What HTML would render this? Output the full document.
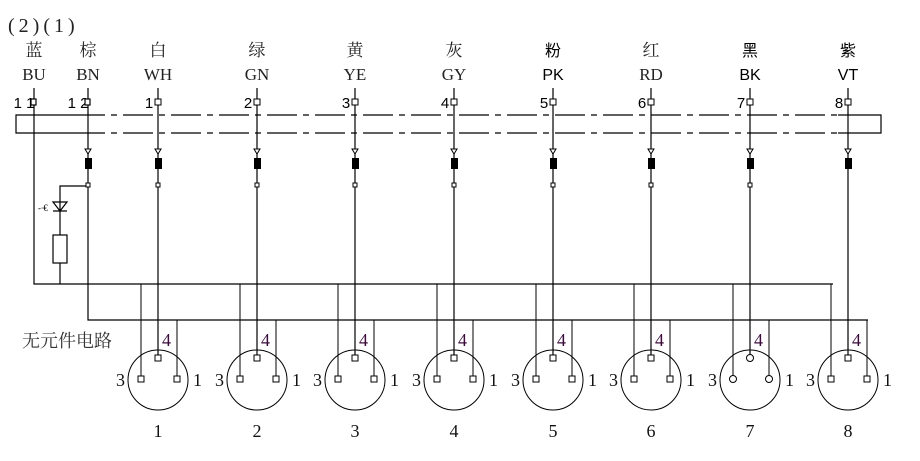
<!DOCTYPE html>
<html><head><meta charset="utf-8"><style>
html,body{margin:0;padding:0;background:#fff;}
svg{display:block;}
.s{font-family:"Liberation Serif","Noto Serif CJK SC",serif;font-size:17px;fill:#222;}
.a{font-family:"Liberation Sans","Noto Sans CJK SC",sans-serif;font-size:16px;fill:#000;}
.n{font-family:"Liberation Sans",sans-serif;font-size:15px;fill:#000;}
.p{font-family:"Liberation Serif",serif;font-size:18px;fill:#111;}
.f{font-family:"Liberation Serif",serif;font-size:18px;fill:#3a0a3a;}
</style></head><body>
<svg width="920" height="461" viewBox="0 0 920 461" xmlns="http://www.w3.org/2000/svg" stroke="#000" stroke-width="1.2" fill="none">
<text x="8" y="32" class="s" stroke="none" style="font-size:20px;letter-spacing:4px">(2)(1)</text>
<g stroke="none" text-anchor="middle">
<text x="34" y="56" class="s">蓝</text><text x="34" y="80" class="s">BU</text>
<text x="88" y="56" class="s">棕</text><text x="88" y="80" class="s">BN</text>
<text x="158" y="56" class="s">白</text><text x="158" y="80" class="s">WH</text>
<text x="257" y="56" class="s">绿</text><text x="257" y="80" class="s">GN</text>
<text x="355" y="56" class="s">黄</text><text x="355" y="80" class="s">YE</text>
<text x="454" y="56" class="s">灰</text><text x="454" y="80" class="s">GY</text>
<text x="553" y="56" class="a">粉</text><text x="553" y="80" class="a">PK</text>
<text x="651" y="56" class="s">红</text><text x="651" y="80" class="s">RD</text>
<text x="750" y="56" class="a">黑</text><text x="750" y="80" class="a">BK</text>
<text x="848" y="56" class="a">紫</text><text x="848" y="80" class="a">VT</text>
<text x="24" y="108" class="n">1 1</text><text x="78" y="108" class="n">1 2</text>
<text x="149" y="108" class="n">1</text><text x="248" y="108" class="n">2</text>
<text x="346" y="108" class="n">3</text><text x="445" y="108" class="n">4</text>
<text x="544" y="108" class="n">5</text><text x="642" y="108" class="n">6</text>
<text x="741" y="108" class="n">7</text><text x="839" y="108" class="n">8</text>
</g>
<path d="M75 115 H16 V133 H75"/>
<path d="M838 115 H881 V133 H838"/>
<path d="M75 115 H838 M75 133 H838" stroke-dasharray="30 6 6 6"/>
<path d="M34 88 V284 H833"/>
<path d="M88 88 V320 H868"/>
<rect x="31" y="99" width="5" height="6" fill="#fff"/>
<rect x="85" y="99" width="5" height="6" fill="#fff"/>
<path d="M88 186 H60 V284"/>
<rect x="53" y="235" width="14" height="28" fill="#fff"/>
<path d="M53 202 H67 L60 211 Z M53 211 H67"/>
<text x="38" y="211" stroke="none" style="font-size:9px" fill="#000">-∙€</text>
<path d="M158 88 V357 M257 88 V357 M355 88 V357 M454 88 V357 M553 88 V357 M651 88 V357 M750 88 V357 M848 88 V357"/>
<g fill="#fff" stroke-width="1">
<rect x="155" y="99" width="6" height="6"/><rect x="254" y="99" width="6" height="6"/><rect x="352" y="99" width="6" height="6"/><rect x="451" y="99" width="6" height="6"/><rect x="550" y="99" width="6" height="6"/><rect x="648" y="99" width="6" height="6"/><rect x="747" y="99" width="6" height="6"/><rect x="845" y="99" width="6" height="6"/>
</g>
<g fill="#000" stroke="none">
<rect x="85" y="158" width="7" height="11"/><rect x="155" y="158" width="7" height="11"/><rect x="254" y="158" width="7" height="11"/><rect x="352" y="158" width="7" height="11"/><rect x="451" y="158" width="7" height="11"/><rect x="550" y="158" width="7" height="11"/><rect x="648" y="158" width="7" height="11"/><rect x="747" y="158" width="7" height="11"/><rect x="845" y="158" width="7" height="11"/>
</g>
<g fill="#fff" stroke-width="1">
<path d="M85 149 H91 L88 154 Z M155 149 H161 L158 154 Z M254 149 H260 L257 154 Z M352 149 H358 L355 154 Z M451 149 H457 L454 154 Z M550 149 H556 L553 154 Z M648 149 H654 L651 154 Z M747 149 H753 L750 154 Z M845 149 H851 L848 154 Z"/>
<rect x="86" y="183" width="4" height="4"/><rect x="156" y="183" width="4" height="4"/><rect x="255" y="183" width="4" height="4"/><rect x="353" y="183" width="4" height="4"/><rect x="452" y="183" width="4" height="4"/><rect x="551" y="183" width="4" height="4"/><rect x="649" y="183" width="4" height="4"/><rect x="748" y="183" width="4" height="4"/>
</g>
<text x="22" y="347" class="s" stroke="none" style="font-size:18px;fill:#333">无元件电路</text>
<g stroke-width="1">
<path d="M141 284 V379 M177 320 V379"/>
<path d="M240 284 V379 M276 320 V379"/>
<path d="M338 284 V379 M374 320 V379"/>
<path d="M437 284 V379 M473 320 V379"/>
<path d="M536 284 V379 M572 320 V379"/>
<path d="M634 284 V379 M670 320 V379"/>
<path d="M733 284 V379 M769 320 V379"/>
<path d="M831 284 V379 M867 320 V379"/>
<g fill="none">
<circle cx="158" cy="380" r="30"/><circle cx="257" cy="380" r="30"/><circle cx="355" cy="380" r="30"/><circle cx="454" cy="380" r="30"/><circle cx="553" cy="380" r="30"/><circle cx="651" cy="380" r="30"/><circle cx="750" cy="380" r="30"/><circle cx="848" cy="380" r="30"/>
</g>
<g fill="#fff">
<rect x="155" y="355" width="6" height="6"/><rect x="138" y="376" width="6" height="6"/><rect x="174" y="376" width="6" height="6"/>
<rect x="254" y="355" width="6" height="6"/><rect x="237" y="376" width="6" height="6"/><rect x="273" y="376" width="6" height="6"/>
<rect x="352" y="355" width="6" height="6"/><rect x="335" y="376" width="6" height="6"/><rect x="371" y="376" width="6" height="6"/>
<rect x="451" y="355" width="6" height="6"/><rect x="434" y="376" width="6" height="6"/><rect x="470" y="376" width="6" height="6"/>
<rect x="550" y="355" width="6" height="6"/><rect x="533" y="376" width="6" height="6"/><rect x="569" y="376" width="6" height="6"/>
<rect x="648" y="355" width="6" height="6"/><rect x="631" y="376" width="6" height="6"/><rect x="667" y="376" width="6" height="6"/>
<circle cx="750" cy="358" r="3.5"/><circle cx="733" cy="379" r="3.5"/><circle cx="769" cy="379" r="3.5"/>
<rect x="845" y="355" width="6" height="6"/><rect x="828" y="376" width="6" height="6"/><rect x="864" y="376" width="6" height="6"/>
</g>
</g>
<g stroke="none">
<text x="162" y="346" class="f">4</text><text x="261" y="346" class="f">4</text><text x="359" y="346" class="f">4</text><text x="458" y="346" class="f">4</text><text x="557" y="346" class="f">4</text><text x="655" y="346" class="f">4</text><text x="754" y="346" class="f">4</text><text x="852" y="346" class="f">4</text>
<text x="116" y="386" class="p">3</text><text x="193" y="386" class="p">1</text>
<text x="215" y="386" class="p">3</text><text x="292" y="386" class="p">1</text>
<text x="313" y="386" class="p">3</text><text x="390" y="386" class="p">1</text>
<text x="412" y="386" class="p">3</text><text x="489" y="386" class="p">1</text>
<text x="511" y="386" class="p">3</text><text x="588" y="386" class="p">1</text>
<text x="609" y="386" class="p">3</text><text x="686" y="386" class="p">1</text>
<text x="708" y="386" class="p">3</text><text x="785" y="386" class="p">1</text>
<text x="806" y="386" class="p">3</text><text x="883" y="386" class="p">1</text>
<g text-anchor="middle">
<text x="158" y="437" class="p">1</text><text x="257" y="437" class="p">2</text><text x="355" y="437" class="p">3</text><text x="454" y="437" class="p">4</text><text x="553" y="437" class="p">5</text><text x="651" y="437" class="p">6</text><text x="750" y="437" class="p">7</text><text x="848" y="437" class="p">8</text>
</g>
</g>
</svg>
</body></html>
